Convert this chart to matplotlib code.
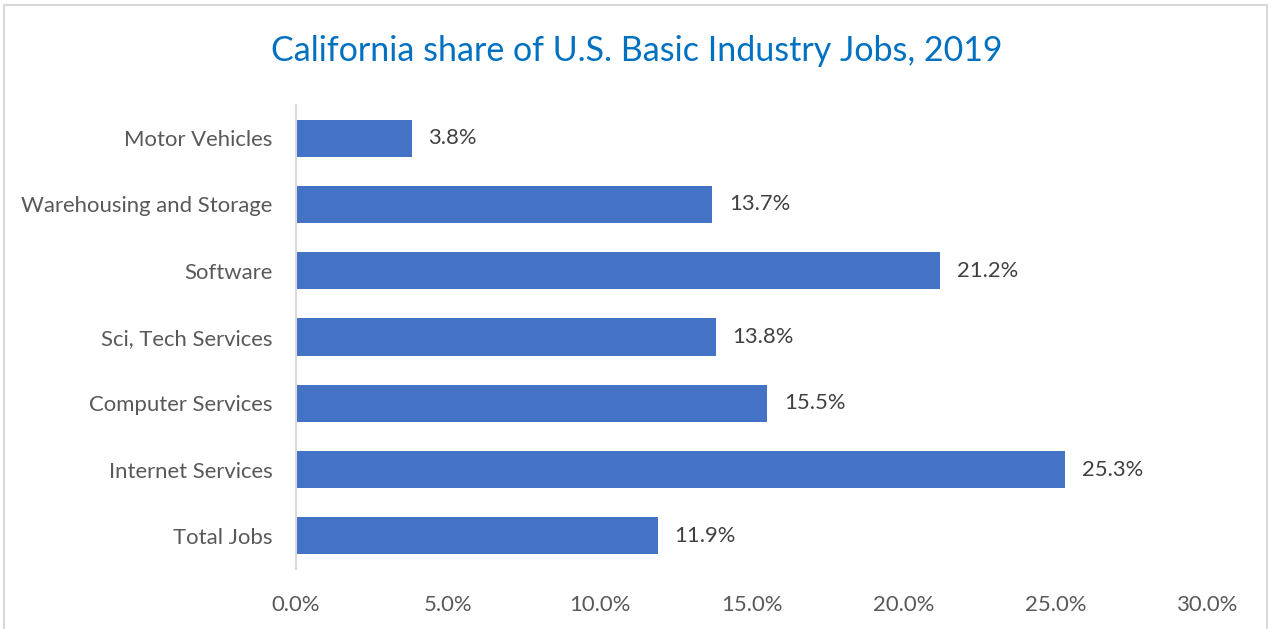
import matplotlib
matplotlib.use("Agg")
import matplotlib.pyplot as plt
from matplotlib.patches import Rectangle
from matplotlib.ticker import FuncFormatter

categories = ["Motor Vehicles", "Warehousing and Storage", "Software",
              "Sci, Tech Services", "Computer Services", "Internet Services",
              "Total Jobs"]
values = [3.8, 13.7, 21.2, 13.8, 15.5, 25.3, 11.9]
xticks = [0, 5, 10, 15, 20, 25, 30]
title = "California share of U.S. Basic Industry Jobs, 2019"

FONT = ["Lato", "DejaVu Sans"]
plt.rcParams["font.family"] = FONT

W, H = 1272, 629
fig = plt.figure(figsize=(W / 100, H / 100), dpi=100)
fig.patch.set_facecolor("white")

# outer chart border
fig.patches.append(Rectangle((4 / W, -0.01), (1267 - 4) / W, 1 - 5 / H + 0.01,
                             transform=fig.transFigure, fill=False,
                             edgecolor="#D9D9D9", linewidth=1.5))

ax = fig.add_axes([296 / W, 1 - 569 / H, (1208 - 296) / W, (569 - 105) / H])

ypos = list(range(len(categories)))
ax.barh(ypos, values, height=0.56, color="#4472C4")
ax.set_ylim(len(categories) - 0.5, -0.5)
ax.set_xlim(0, 30)
ax.set_yticks(ypos)
ax.set_yticklabels(categories)
ax.set_xticks(xticks)
ax.xaxis.set_major_formatter(FuncFormatter(lambda v, p: f"{v:.1f}%"))

for s in ["top", "right", "bottom"]:
    ax.spines[s].set_visible(False)
ax.spines["left"].set_color("#D9D9D9")
ax.spines["left"].set_linewidth(1.5)

ax.tick_params(axis="y", length=0, pad=17, labelsize=15.9, labelcolor="#595959")
ax.tick_params(axis="x", length=0, pad=19, labelsize=15.9, labelcolor="#595959")

for y, v in zip(ypos, values):
    ax.annotate(f"{v:.1f}%", xy=(v, y), xytext=(12, 0), textcoords="offset points",
                va="center", ha="left", fontsize=15.8, color="#404040")

fig.text(637 / W, 1 - 51 / H, title, ha="center", va="center",
         fontsize=24.5, color="#0070C0")

fig.savefig("out.png", dpi=100, facecolor="white")
